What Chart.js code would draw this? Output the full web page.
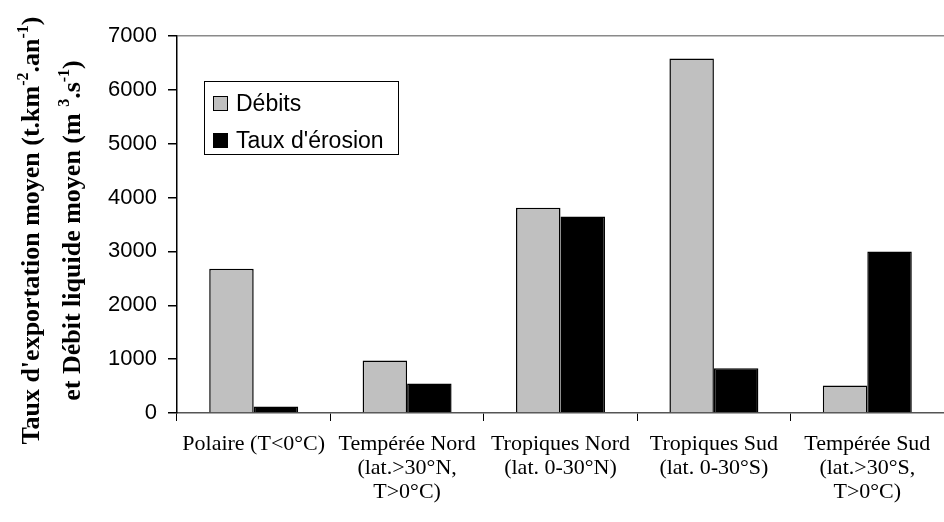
<!DOCTYPE html>
<html>
<head>
<meta charset="utf-8">
<script src="https://cdn.jsdelivr.net/npm/chart.js"></script>
<style>
  body { margin: 0; background: #fff; }
  #wrap { width: 944px; height: 522px; }
</style>
</head>
<body>
<div id="wrap"><canvas id="myChart"></canvas></div>
<script>
const categories = [
  ["Polaire (T<0°C)"],
  ["Tempérée Nord", "(lat.>30°N,", "T>0°C)"],
  ["Tropiques Nord", "(lat. 0-30°N)"],
  ["Tropiques Sud", "(lat. 0-30°S)"],
  ["Tempérée Sud", "(lat.>30°S,", "T>0°C)"]
];
const debits = [2680, 975, 3810, 6580, 510];
const tauxErosion = [120, 550, 3650, 830, 3000];
const yTicks = [0, 1000, 2000, 3000, 4000, 5000, 6000, 7000];

const serif = "'Liberation Serif', 'Times New Roman', serif";
const sans = "'Liberation Sans', Arial, sans-serif";

// draws a run of text pieces, some of them raised as exponents
function drawRich(ctx, parts, size) {
  const supSize = Math.round(size * 0.62);
  let total = 0;
  parts.forEach(p => {
    ctx.font = "bold " + (p.sup ? supSize : size) + "px " + serif;
    p.w = ctx.measureText(p.t).width;
    total += p.w;
  });
  let x = -total / 2;
  parts.forEach(p => {
    ctx.font = "bold " + (p.sup ? supSize : size) + "px " + serif;
    ctx.fillText(p.t, x, p.sup ? -size * 0.42 : 0);
    x += p.w;
  });
}

const yTitle = {
  id: "yTitle",
  afterDraw(chart) {
    const ctx = chart.ctx;
    const cy = (chart.chartArea.top + chart.chartArea.bottom) / 2 + 6;
    ctx.save();
    ctx.fillStyle = "#000";
    ctx.textBaseline = "alphabetic";
    ctx.textAlign = "left";
    const lines = [
      { x: 39, parts: [{ t: "Taux d'exportation moyen (t.km" }, { t: "-2", sup: true }, { t: ".an" }, { t: "-1", sup: true }, { t: ")" }] },
      { x: 80, parts: [{ t: "et Débit liquide moyen (m " }, { t: "3", sup: true }, { t: ".s" }, { t: "-1", sup: true }, { t: ")" }] }
    ];
    lines.forEach(l => {
      ctx.save();
      ctx.translate(l.x, cy);
      ctx.rotate(-Math.PI / 2);
      drawRich(ctx, l.parts, 26);
      ctx.restore();
    });
    ctx.restore();
  }
};

const xLabels = {
  id: "xLabels",
  afterDraw(chart) {
    const ctx = chart.ctx;
    const xs = chart.scales.x;
    ctx.save();
    ctx.fillStyle = "#000";
    ctx.font = "22px " + serif;
    ctx.textAlign = "center";
    ctx.textBaseline = "alphabetic";
    chart.data.labels.forEach((lines, i) => {
      const x = xs.getPixelForValue(i);
      lines.forEach((s, j) => {
        ctx.fillText(s, x, 450 + j * 24);
      });
    });
    ctx.restore();
  }
};

const boxLegend = {
  id: "boxLegend",
  afterDraw(chart) {
    const ctx = chart.ctx;
    ctx.save();
    ctx.fillStyle = "#fff";
    ctx.fillRect(204.5, 81.5, 194, 73);
    ctx.strokeStyle = "#000";
    ctx.lineWidth = 1;
    ctx.strokeRect(204.5, 81.5, 194, 73);
    ctx.font = "23px " + sans;
    ctx.textBaseline = "alphabetic";
    ctx.textAlign = "left";
    chart.data.datasets.forEach((ds, i) => {
      const y = 96.5 + i * 37;
      ctx.fillStyle = ds.backgroundColor;
      ctx.fillRect(213.5, y, 14, 14);
      ctx.strokeRect(213.5, y, 14, 14);
      ctx.fillStyle = "#000";
      ctx.fillText(ds.label, 236, y + 14);
    });
    ctx.restore();
  }
};

new Chart(document.getElementById("myChart"), {
  type: "bar",
  data: {
    labels: categories,
    datasets: [
      { label: "Débits", data: debits, backgroundColor: "#c0c0c0", borderColor: "#000", borderWidth: 1.5 },
      { label: "Taux d'érosion", data: tauxErosion, backgroundColor: "#000", borderColor: "#000", borderWidth: 1.5 }
    ]
  },
  options: {
    responsive: true,
    maintainAspectRatio: false,
    animation: false,
    layout: { padding: { top: 36, right: -4, left: 0, bottom: 0 } },
    datasets: { bar: { categoryPercentage: 0.58, barPercentage: 1 } },
    plugins: { legend: { display: false }, tooltip: { enabled: false } },
    scales: {
      x: {
        afterFit: s => { s.height = 109; },
        grid: { offset: true, drawOnChartArea: false, tickLength: 8, color: "#000", tickColor: "#000" },
        border: { color: "#555", width: 1.5 },
        ticks: { display: false }
      },
      y: {
        min: 0,
        max: 7000,
        afterFit: s => { s.width = 177; },
        afterBuildTicks: s => { s.ticks = yTicks.map(v => ({ value: v })); },
        grid: {
          color: c => (c.tick && c.tick.value === 7000 ? "#8a8a8a" : "rgba(0,0,0,0)"),
          tickColor: "#000",
          tickLength: 9,
          lineWidth: 1.5
        },
        border: { color: "#000", width: 1.5 },
        ticks: { color: "#000", padding: 11, font: { family: sans, size: 22 }, callback: v => String(v) }
      }
    }
  },
  plugins: [yTitle, xLabels, boxLegend]
});
</script>
</body>
</html>
